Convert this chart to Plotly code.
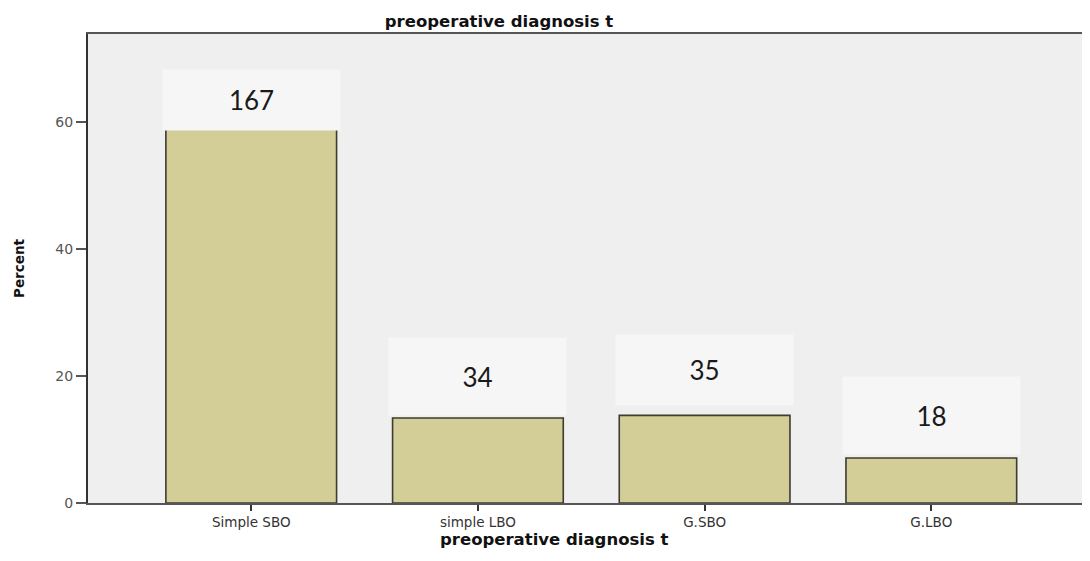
import plotly.graph_objects as go

categories = ["Simple SBO", "simple LBO", "G.SBO", "G.LBO"]
percent = [65.7, 13.4, 13.8, 7.1]
counts = ["167", "34", "35", "18"]
y_ticks = [0, 20, 40, 60]

# label box placement (pixels relative to bar top), style only
label_shift = [-14, 41, 45, 42]
label_height = [58, 75, 68, 75]

fig = go.Figure()
fig.add_trace(go.Bar(
    x=categories, y=percent,
    marker=dict(color="#d3ce97", line=dict(color="#3c3c30", width=1.6)),
    hoverinfo="skip",
))

for c, v, t, s, h in zip(categories, percent, counts, label_shift, label_height):
    fig.add_annotation(
        x=c, y=v, xref="x", yref="y", text=t, showarrow=False,
        yanchor="middle", yshift=s, width=175, height=h,
        bgcolor="#f6f6f6", font=dict(family="Lato", size=26, color="#1a1a1a"),
    )

fig.add_annotation(
    x=0.466, y=0, xref="paper", yref="paper", text="<b>preoperative diagnosis t</b>",
    showarrow=False, yanchor="middle", yshift=-36,
    font=dict(family="DejaVu Sans", size=16.5, color="#111"),
)

fig.update_layout(
    width=1082, height=553,
    margin=dict(l=80, r=0, t=26, b=58),
    paper_bgcolor="white", plot_bgcolor="#efefef",
    bargap=0.247, showlegend=False,
    title=dict(text="<b>preoperative diagnosis t</b>", x=0.4538, xanchor="center",
               y=0.9765, yanchor="middle",
               font=dict(family="DejaVu Sans", size=16.5, color="#111")),
    xaxis=dict(range=[-0.72, 3.70], showgrid=False, showline=True, linecolor="#555",
               linewidth=1.5, mirror=True, ticks="outside", ticklen=6, tickwidth=1.5,
               tickcolor="#333", tickfont=dict(family="DejaVu Sans", size=13.5, color="#333"),
               zeroline=False),
    yaxis=dict(range=[0, 73.9], tickvals=y_ticks, showgrid=False, showline=True,
               linecolor="#333", linewidth=2, ticks="outside", ticklen=10, tickwidth=1.5,
               tickcolor="#555", tickfont=dict(family="DejaVu Sans", size=14, color="#555"),
               zeroline=False,
               title=dict(text="<b>Percent</b>", standoff=28,
                          font=dict(family="DejaVu Sans", size=13.5, color="#111"))),
)

fig.write_html("out.html")
